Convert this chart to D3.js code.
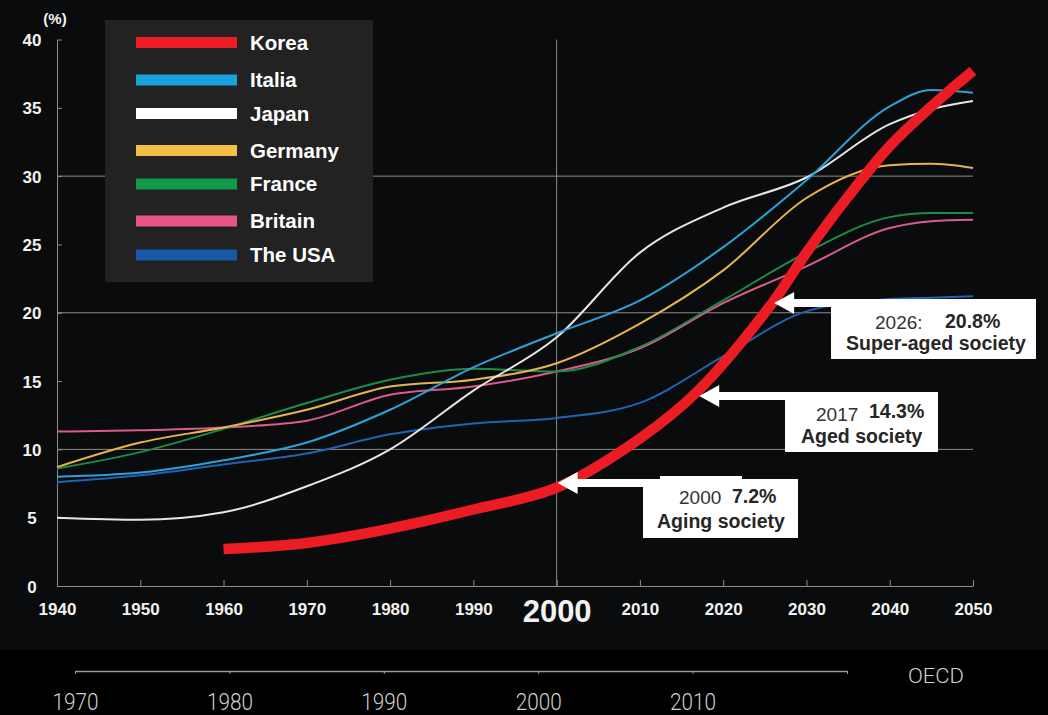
<!DOCTYPE html>
<html>
<head>
<meta charset="utf-8">
<script src="https://cdn.jsdelivr.net/npm/d3@7"></script>
<style>
  html, body { margin: 0; padding: 0; background: #000; }
  svg { display: block; }
  text { font-family: "Liberation Sans", Arial, sans-serif; }
</style>
</head>
<body>
<svg id="chart" width="1048" height="715"></svg>
<script>
// Share of population aged 65+ (%), by country
const years = [1940, 1950, 1960, 1970, 1980, 1990, 2000, 2010, 2020, 2030, 2040, 2045, 2050];
const italia  = [8.0, 8.3, 9.2, 10.5, 12.9, 16.0, 18.5, 20.9, 24.8, 29.7, 35.1, 36.3, 36.1];
const japan   = [5.0, 4.85, 5.4, 7.3, 10.0, 14.3, 18.2, 24.4, 27.7, 29.9, 33.8, 34.9, 35.5];
const germany = [8.7, 10.5, 11.6, 12.9, 14.6, 15.1, 16.3, 19.2, 23.1, 28.4, 30.8, 30.9, 30.6];
const france  = [8.6, 9.8, 11.5, 13.4, 15.1, 15.9, 15.7, 17.5, 20.9, 24.4, 27.0, 27.3, 27.3];
const britain = [11.3, 11.4, 11.6, 12.1, 14.0, 14.6, 15.7, 17.4, 20.7, 23.4, 26.2, 26.7, 26.8];
const usa     = [7.6, 8.1, 8.9, 9.7, 11.1, 11.9, 12.3, 13.4, 16.8, 20.1, 21.0, 21.1, 21.2];

const koreaYears = [1960, 1970, 1980, 1990, 2000, 2010, 2017, 2026, 2030, 2035, 2040, 2045, 2050];
const korea      = [2.7, 3.15, 4.2, 5.6, 7.2, 10.8, 14.3, 20.8, 24.4, 28.5, 32.2, 35.1, 37.7];

const legendNames = ["Korea", "Italia", "Japan", "Germany", "France", "Britain", "The USA"];
const yTicks = [0, 5, 10, 15, 20, 25, 30, 35, 40];
const gridValues = [10, 20, 30];
const xTicks = [1940, 1950, 1960, 1970, 1980, 1990, 2000, 2010, 2020, 2030, 2040, 2050];
const oecdTicks = [1970, 1980, 1990, 2000, 2010, 2020];
const oecdLabels = ["1970", "1980", "1990", "2000", "2010", ""];

// milestones for Korea: year, share, phase
const milestones = [
  { year: 2026, value: 20.8, sep: ":", phase: "Super-aged society" },
  { year: 2017, value: 14.3, sep: "",  phase: "Aged society" },
  { year: 2000, value: 7.2,  sep: "",  phase: "Aging society" }
];

const series = [
  { name: "The USA", values: usa,     color: "#2162b2", legend: "#1958a8" },
  { name: "Britain", values: britain, color: "#dc5a8c", legend: "#e8548a" },
  { name: "France",  values: france,  color: "#1e8c46", legend: "#13994a" },
  { name: "Germany", values: germany, color: "#e6b54c", legend: "#f2c044" },
  { name: "Japan",   values: japan,   color: "#e6e6e6", legend: "#ffffff" },
  { name: "Italia",  values: italia,  color: "#2ba3d9", legend: "#1aa0dc" }
];
const koreaColor = "#ec1c24";

const svg = d3.select("#chart");

// background panels
svg.append("rect").attr("x", 0).attr("y", 0).attr("width", 1048).attr("height", 650).attr("fill", "#0a0b0c");
svg.append("rect").attr("x", 0).attr("y", 650).attr("width", 1048).attr("height", 65).attr("fill", "#000000");

const x = d3.scaleLinear().domain([1940, 2050]).range([57, 973]);
const y = d3.scaleLinear().domain([0, 40]).range([586, 39.5]);

// gridlines
svg.append("g").selectAll("line").data(gridValues).join("line")
  .attr("x1", x(1940)).attr("x2", x(2050))
  .attr("y1", d => y(d)).attr("y2", d => y(d))
  .attr("stroke", "#8c8c8c").attr("stroke-width", 1);
svg.append("line")
  .attr("x1", x(2000)).attr("x2", x(2000)).attr("y1", y(40)).attr("y2", y(0))
  .attr("stroke", "#8c8c8c").attr("stroke-width", 1);

// y axis
const yAxis = svg.append("g").attr("transform", `translate(${x(1940)},0)`)
  .call(d3.axisLeft(y).tickValues(yTicks).tickSizeInner(-5).tickSizeOuter(0).tickPadding(0));
yAxis.select(".domain").attr("stroke", "#8c8c8c");
yAxis.selectAll(".tick line").attr("stroke", "#8c8c8c");
yAxis.selectAll(".tick text")
  .attr("x", -25).attr("dy", "0.36em").attr("text-anchor", "middle")
  .attr("fill", "#f2f2f2").attr("font-size", 17).attr("font-weight", "bold")
  .style("font-family", "'Liberation Sans', Arial, sans-serif");
svg.append("text").attr("x", 55).attr("y", 24).attr("text-anchor", "middle")
  .attr("fill", "#f2f2f2").attr("font-size", 15).attr("font-weight", "bold").text("(%)");

// x axis
const xAxis = svg.append("g").attr("transform", `translate(0,${y(0)})`)
  .call(d3.axisBottom(x).tickValues(xTicks).tickFormat(d3.format("d")).tickSizeInner(-6).tickSizeOuter(0));
xAxis.select(".domain").attr("stroke", "#8c8c8c");
xAxis.selectAll(".tick line").attr("stroke", "#8c8c8c");
xAxis.selectAll(".tick text")
  .attr("y", d => d === 2000 ? 36 : 29).attr("dy", 0)
  .attr("fill", "#f2f2f2").attr("font-weight", "bold")
  .attr("font-size", d => d === 2000 ? 31 : 17)
  .style("font-family", "'Liberation Sans', Arial, sans-serif");

// country lines
const line = d3.line().x(d => x(d[0])).y(d => y(d[1])).curve(d3.curveMonotoneX);
svg.append("g").selectAll("path").data(series).join("path")
  .attr("d", s => line(years.map((yr, i) => [yr, s.values[i]])))
  .attr("fill", "none").attr("stroke", s => s.color).attr("stroke-width", 2);

const koreaLine = d3.line().x(d => x(d[0])).y(d => y(d[1])).curve(d3.curveCatmullRom.alpha(0.5));
svg.append("path")
  .attr("d", koreaLine(koreaYears.map((yr, i) => [yr, korea[i]])))
  .attr("fill", "none").attr("stroke", koreaColor).attr("stroke-width", 10.5)
  .attr("stroke-linecap", "butt");

// legend
const legend = svg.append("g");
legend.append("rect").attr("x", 105).attr("y", 20).attr("width", 268).attr("height", 262).attr("fill", "#222222");
const legendColors = [koreaColor].concat(["Italia", "Japan", "Germany", "France", "Britain", "The USA"]
  .map(n => series.find(s => s.name === n).legend));
const legendY = [42.5, 80, 113.5, 150.5, 184, 221, 255];
const items = legend.selectAll("g.item").data(legendNames).join("g").attr("class", "item")
  .attr("transform", (d, i) => `translate(0,${legendY[i]})`);
items.append("rect").attr("x", 136).attr("y", -5.5).attr("width", 101).attr("height", 11)
  .attr("fill", (d, i) => legendColors[i]);
items.append("text").attr("x", 250).attr("y", 7).attr("fill", "#ffffff")
  .attr("font-size", 20.5).attr("font-weight", "bold").text(d => d);

// milestone call-outs
const boxes = [
  { left: 831, top: 299, width: 205, height: 60, yearX: 875, yearY: 329, valX: 945, valY: 328, phaseX: 846, phaseY: 350, patch: null },
  { left: 785, top: 392, width: 153, height: 60, yearX: 816, yearY: 421, valX: 869, valY: 418, phaseX: 801, phaseY: 443, patch: null },
  { left: 643, top: 479, width: 155, height: 59, yearX: 679, yearY: 504, valX: 732, valY: 503, phaseX: 657, phaseY: 528, patch: [660, 476, 82, 36] }
];
const notes = svg.append("g");
milestones.forEach((m, i) => {
  const b = boxes[i];
  const tipX = x(m.year) + 1, cy = b.top + 4;
  const headX = tipX + 20;
  notes.append("path")
    .attr("d", `M${tipX},${cy} L${headX},${cy - 11} L${headX},${b.top} L${b.left + 1},${b.top} L${b.left + 1},${b.top + 8} L${headX},${b.top + 8} L${headX},${cy + 11} Z`)
    .attr("fill", "#ffffff");
  notes.append("rect").attr("x", b.left).attr("y", b.top).attr("width", b.width).attr("height", b.height).attr("fill", "#ffffff");
  if (b.patch) {
    notes.append("rect").attr("x", b.patch[0]).attr("y", b.patch[1]).attr("width", b.patch[2]).attr("height", b.patch[3]).attr("fill", "#ffffff");
  }
  notes.append("text").attr("x", b.yearX).attr("y", b.yearY).attr("fill", "#333333")
    .attr("font-size", 19).text(m.year + m.sep);
  notes.append("text").attr("x", b.valX).attr("y", b.valY).attr("fill", "#262626")
    .attr("font-size", 19.5).attr("font-weight", "bold").text(m.value + "%");
  notes.append("text").attr("x", b.phaseX).attr("y", b.phaseY).attr("fill", "#262626")
    .attr("font-size", 19.5).attr("font-weight", "bold").text(m.phase);
});

// lower OECD timeline
const xo = d3.scaleLinear().domain([1970, 2020]).range([75, 847]);
const oAxis = svg.append("g").attr("transform", "translate(0,671)")
  .call(d3.axisBottom(xo).tickValues(oecdTicks).tickFormat((d, i) => oecdLabels[i]).tickSizeInner(3).tickSizeOuter(0));
oAxis.select(".domain").attr("stroke", "#9a9a9a").attr("stroke-width", 1.5);
oAxis.selectAll(".tick line").attr("stroke", "#9a9a9a");
oAxis.selectAll(".tick text")
  .attr("y", 39).attr("dy", 0).attr("fill", "#cfcfcf").attr("font-size", 24).attr("font-weight", 300)
  .attr("textLength", d => d === 2020 ? null : 46).attr("lengthAdjust", "spacingAndGlyphs")
  .style("font-family", "Roboto, 'Liberation Sans Narrow', sans-serif");
svg.append("text").attr("x", 936).attr("y", 683).attr("text-anchor", "middle")
  .attr("fill", "#d0d0d0").attr("font-size", 20).attr("font-weight", 300)
  .attr("textLength", 56).attr("lengthAdjust", "spacingAndGlyphs")
  .style("font-family", "Roboto, 'Liberation Sans Narrow', sans-serif")
  .text("OECD");
</script>
</body>
</html>
